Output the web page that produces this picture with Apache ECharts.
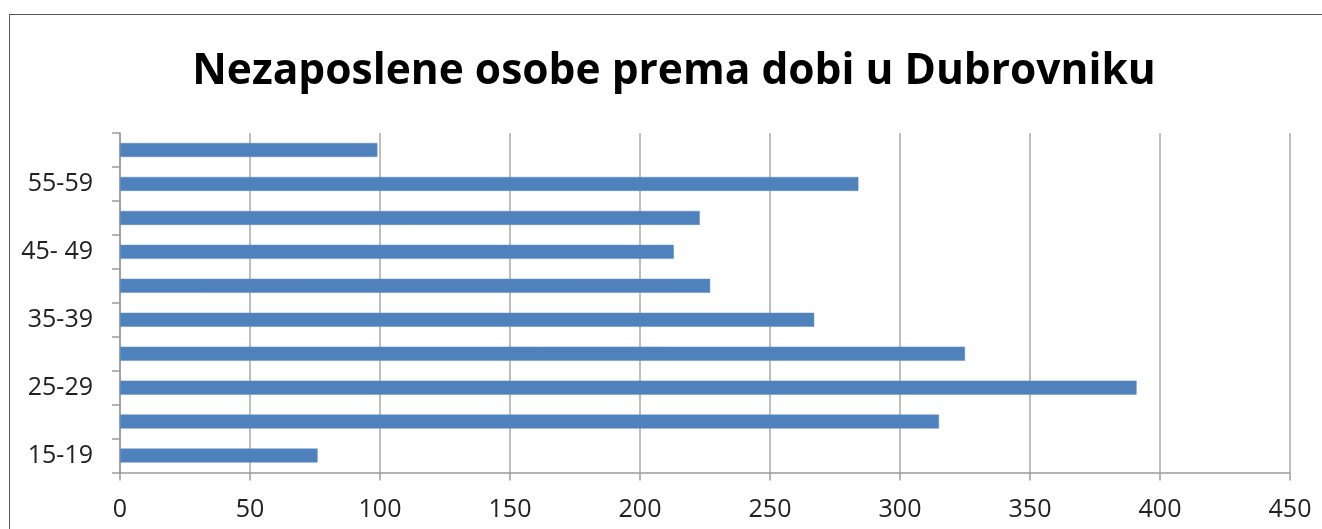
<!DOCTYPE html>
<html>
<head>
<meta charset="utf-8">
<script src="https://cdn.jsdelivr.net/npm/echarts@6/dist/echarts.min.js"></script>
<style>
html,body{margin:0;padding:0;background:#fff;overflow:hidden;}
#frame{position:absolute;left:9px;top:14px;width:1400px;height:600px;border:1px solid #555;box-sizing:border-box;}
#chart{position:absolute;left:0;top:0;width:1322px;height:529px;}
</style>
</head>
<body>
<div id="frame"></div>
<div id="chart"></div>
<script>
const title = 'Nezaposlene osobe prema dobi u Dubrovniku';
const categories = ['15-19','20-24','25-29','30-34','35-39','40-44','45- 49','50-54','55-59','60+'];
const values = [76, 315, 391, 325, 267, 227, 213, 223, 284, 99];
const xMin = 0, xMax = 450, xStep = 50;

const chart = echarts.init(document.getElementById('chart'), null, {renderer:'canvas'});
chart.setOption({
  animation: false,
  backgroundColor: 'transparent',
  title: {
    text: title,
    left: 669, top: 45, textAlign: 'center',
    textStyle: {fontFamily: 'Open Sans', fontWeight: 'bold', fontSize: 42.5, color: '#000'}
  },
  grid: {left: 120, right: 32, top: 133, bottom: 56.5, containLabel: false},
  xAxis: {
    type: 'value', min: xMin, max: xMax, interval: xStep,
    axisLine: {show: true, lineStyle: {color: '#9a9a9a', width: 1.5}},
    axisTick: {show: true, length: 8, lineStyle: {color: '#9a9a9a', width: 1.5}},
    splitLine: {show: true, lineStyle: {color: '#a8a8a8', width: 1.5}},
    axisLabel: {margin: 25, fontSize: 25, color: '#222', fontFamily: 'Open Sans'}
  },
  yAxis: {
    type: 'category', data: categories,
    axisLine: {show: true, lineStyle: {color: '#9a9a9a', width: 1.5}},
    axisTick: {show: true, interval: 0, length: 8, lineStyle: {color: '#9a9a9a', width: 1.5}},
    axisLabel: {interval: 1, margin: 27, fontSize: 25, color: '#222', fontFamily: 'Open Sans'}
  },
  series: [{
    type: 'bar', data: values, barWidth: 14,
    itemStyle: {color: '#4F81BD', borderColor: '#5f8ec6', borderWidth: 0.5}
  }]
});
</script>
</body>
</html>
